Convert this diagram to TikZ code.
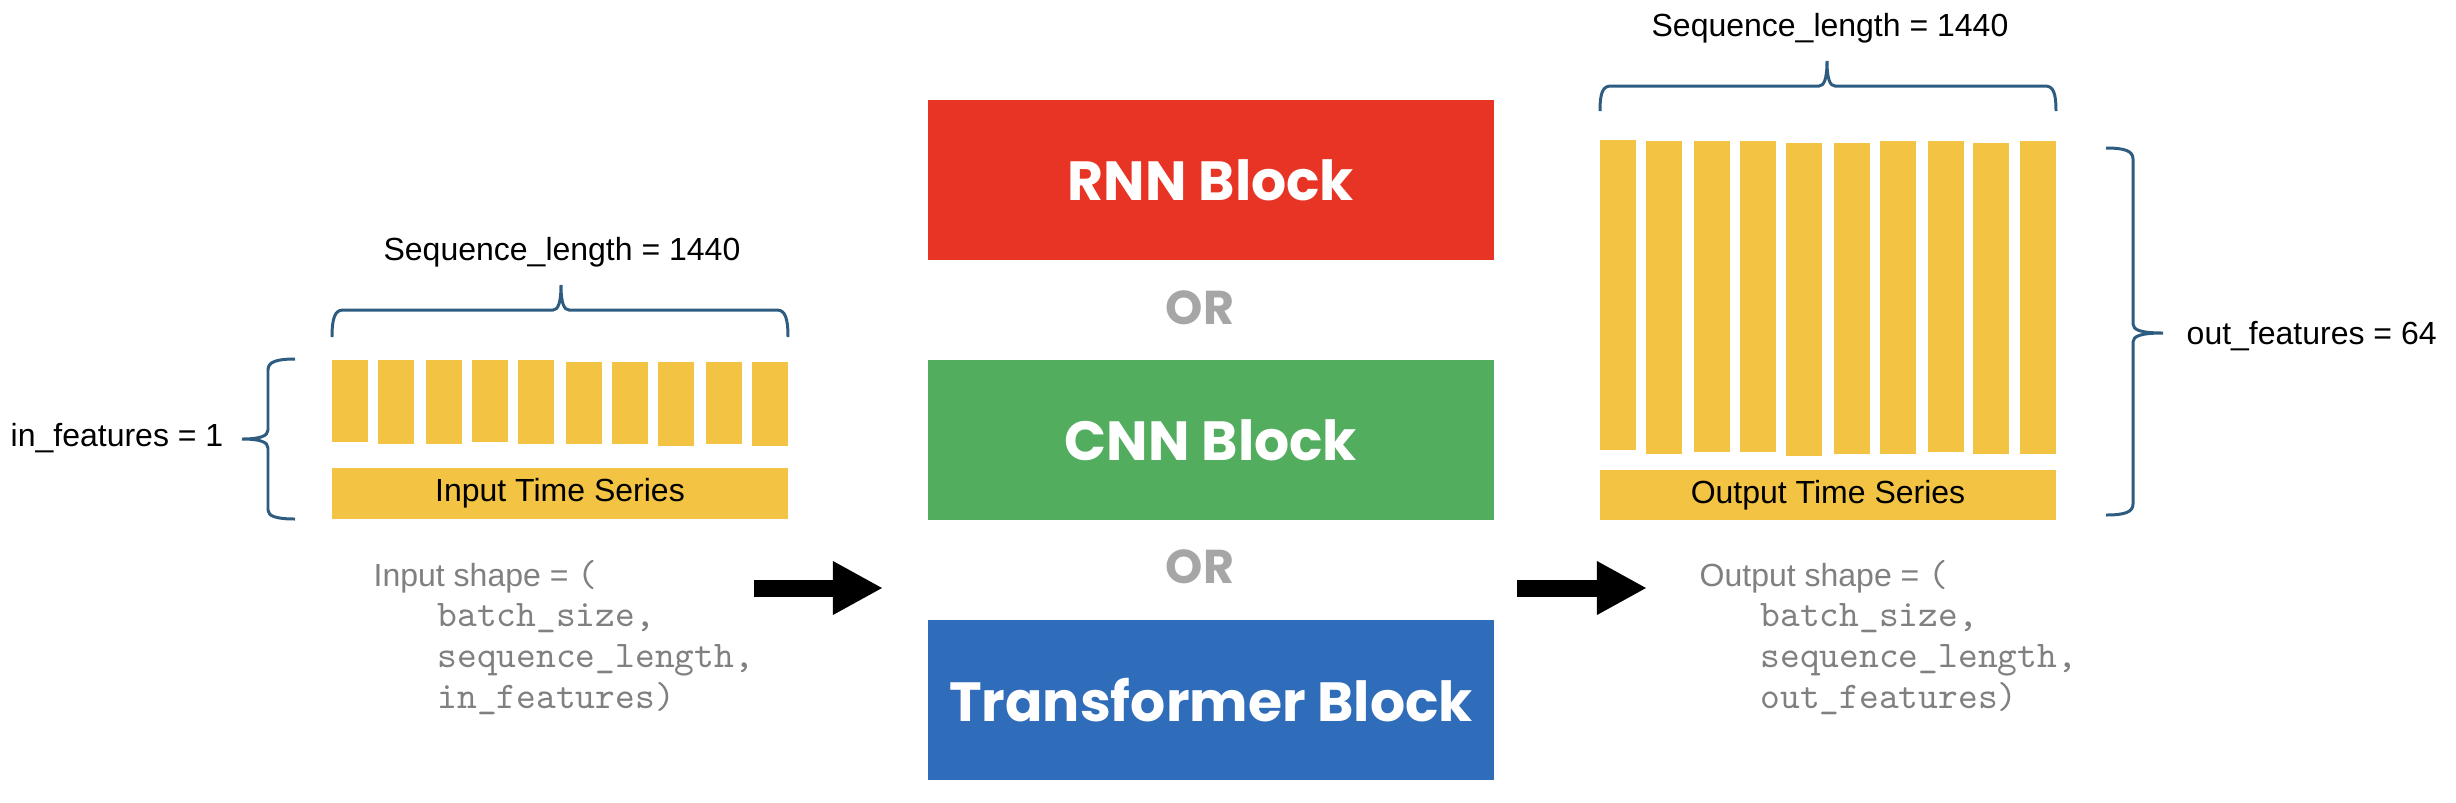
\documentclass[tikz,border=0pt]{standalone}
\usepackage{fontspec}
\setmainfont{Liberation Sans}
\newfontfamily\blockfont{Poppins}
\usetikzlibrary{arrows.meta, positioning}

\definecolor{rnnred}{RGB}{232,52,37}
\definecolor{cnngreen}{RGB}{82,173,94}
\definecolor{tfblue}{RGB}{47,108,185}
\definecolor{baryellow}{RGB}{243,195,67}
\definecolor{bracecol}{RGB}{46,92,128}
\definecolor{orgray}{RGB}{166,166,166}
\definecolor{shapegray}{RGB}{128,128,128}

\tikzset{
    block/.style={fill=#1, minimum width=5.66cm, minimum height=1.59cm, inner sep=0,
        text=white, font=\blockfont\bfseries\fontsize{15.7}{18}\selectfont},
    ortext/.style={text=orgray, inner sep=0, font=\blockfont\bfseries\fontsize{13.5}{16}\selectfont},
    tsbar/.style={fill=baryellow, minimum width=4.56cm, inner sep=0, font=\fontsize{9.1}{11}\selectfont},
    label/.style={inner sep=0, font=\fontsize{9.1}{11}\selectfont},
    shapehead/.style={inner sep=0, text=shapegray, font=\fontsize{9.1}{11}\selectfont},
    shapedims/.style={inner sep=0, text=shapegray, align=left, font=\ttfamily\fontsize{10.7}{11.7}\selectfont},
    bracket/.style={draw=bracecol, line width=0.85pt},
    bigarrow/.style={line width=0.17cm, -{Triangle[length=0.5cm, width=0.5cm]}}
}

\begin{document}
\begin{tikzpicture}[x=0.01cm, y=-0.01cm]
    \useasboundingbox (0,0) rectangle (2456,802);
    \def\barw{36}

    % the three model blocks
    \node[block=rnnred] (rnn) at (1211,180) {RNN Block};
    \node[block=cnngreen] (cnn) at (1211,440) {CNN Block};
    \node[block=tfblue] (tf) at (1211,700) {Transformer Block};
    \node[ortext] (or1) at (1200,308) {OR};
    \node[ortext] (or2) at (1200,567) {OR};

    % input series
    \foreach \x/\t/\b in {332/360/442, 378/360/444, 426/360/444, 472/360/442, 518/360/444,
                          566/362/444, 612/362/444, 658/362/446, 706/362/444, 752/362/446}
        \fill[baryellow] (\x,\t) rectangle (\x+\barw,\b);
    \node[tsbar, minimum height=0.51cm] (ints) at (560,493.5) {Input Time Series};
    \node[label] (seqin) at (562,252) {Sequence\_length = 1440};
    \node[label, anchor=west] (infeat) at (10,438) {in\_features = 1};
    \draw[bracket] (332,337) .. controls (332,318) and (335,310) .. (343,310) -- (553,310)
        .. controls (558,310) and (561,303) .. (561,285)
        .. controls (561,303) and (564,310) .. (569,310) -- (777,310)
        .. controls (785,310) and (788,318) .. (788,337);
    \draw[bracket] (295,359) .. controls (276,359) and (268,362) .. (268,370) -- (268,430)
        .. controls (268,436) and (260,439) .. (242,439)
        .. controls (260,439) and (268,442) .. (268,448) -- (268,510)
        .. controls (268,516) and (276,519) .. (295,519);
    \node[shapehead, anchor=west] (inshape) at (373,577) {Input shape = {\ttfamily\fontsize{10.7}{11.7}\selectfont (}};
    \node[shapedims, anchor=west] (indims) at (437,659) {batch\_size,\\sequence\_length,\\in\_features)};

    % output series
    \foreach \x/\t/\b in {1600/140/450, 1646/141/454, 1694/141/452, 1740/141/452, 1786/143/456,
                          1834/143/454, 1880/141/454, 1928/141/452, 1973/143/454, 2020/141/454}
        \fill[baryellow] (\x,\t) rectangle (\x+\barw,\b);
    \node[tsbar, minimum height=0.50cm] (outts) at (1828,495) {Output Time Series};
    \node[label] (seqout) at (1830,28) {Sequence\_length = 1440};
    \node[label, anchor=west] (outfeat) at (2186,336) {out\_features = 64};
    \draw[bracket] (1600,111) .. controls (1600,92) and (1603,86) .. (1611,86) -- (1819,86)
        .. controls (1824,86) and (1827,79) .. (1827,61)
        .. controls (1827,79) and (1830,86) .. (1835,86) -- (2045,86)
        .. controls (2053,86) and (2056,92) .. (2056,111);
    \draw[bracket] (2106,148) .. controls (2125,148) and (2133,151) .. (2133,159) -- (2133,324)
        .. controls (2133,330) and (2141,333) .. (2163,333)
        .. controls (2141,333) and (2133,336) .. (2133,342) -- (2133,504)
        .. controls (2133,512) and (2125,515) .. (2106,515);
    \node[shapehead, anchor=west] (outshape) at (1699,577) {Output shape = {\ttfamily\fontsize{10.7}{11.7}\selectfont (}};
    \node[shapedims, anchor=west] (outdims) at (1760,659) {batch\_size,\\sequence\_length,\\out\_features)};

    % arrows in and out of the blocks
    \coordinate (inarrs) at (754,588);
    \coordinate (inarre) at (883,588);
    \coordinate (outarrs) at (1517,588);
    \coordinate (outarre) at (1647,588);
    \draw[bigarrow] (inarrs) -- (inarre);
    \draw[bigarrow] (outarrs) -- (outarre);
\end{tikzpicture}
\end{document}
